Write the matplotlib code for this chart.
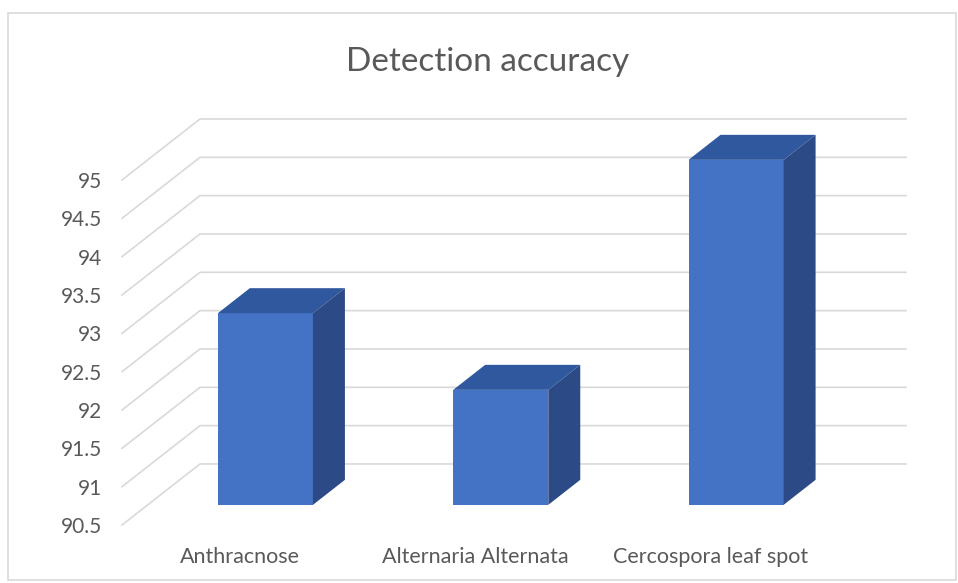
import matplotlib
matplotlib.use("Agg")
import matplotlib.pyplot as plt
from matplotlib.patches import Rectangle

# data
categories = ["Anthracnose", "Alternaria Alternata", "Cercospora leaf spot"]
accuracy = [93, 92, 95]
yticks = [90.5, 91, 91.5, 92, 92.5, 93, 93.5, 94, 94.5, 95]
ytick_labels = ["90.5", "91", "91.5", "92", "92.5", "93", "93.5", "94", "94.5", "95"]

# 3D look (oblique projection in data units)
DX = 0.3314   # full depth shift in x
DY = 0.796    # full depth shift in y
D0, D1 = 0.33, 0.74   # bar depth range
BAR_W = 0.404
Y0 = 90.5

FRONT = "#4472C4"
TOP = "#30589E"
SIDE = "#2C4B86"
GRID = "#D9D9D9"
TXT = "#595959"

plt.rcParams['font.family'] = ['Lato', 'DejaVu Sans']

W, H = 958, 583
fig = plt.figure(figsize=(W / 100, H / 100), dpi=100)
ax = fig.add_axes([122 / W, (H - 525) / H, (828 - 122) / W, (525 - 180) / H])
ax.set_xlim(-0.5, 2.5)
ax.set_ylim(Y0, 95)

# walls / gridlines
for v in yticks:
    ax.plot([-0.5, -0.5 + DX, 2.5 + DX], [v, v + DY, v + DY],
            color=GRID, lw=1.2, clip_on=False, zorder=1)

# bars
for i, val in enumerate(accuracy):
    x0 = i - BAR_W / 2
    x1 = i + BAR_W / 2
    fx0, fx1 = x0 + D0 * DX, x1 + D0 * DX
    fy0, fy1 = Y0 + D0 * DY, val + D0 * DY
    ddx, ddy = (D1 - D0) * DX, (D1 - D0) * DY
    # front
    ax.fill([fx0, fx1, fx1, fx0], [fy0, fy0, fy1, fy1], color=FRONT,
            lw=0, clip_on=False, zorder=3)
    # top
    ax.fill([fx0, fx1, fx1 + ddx, fx0 + ddx], [fy1, fy1, fy1 + ddy, fy1 + ddy],
            color=TOP, lw=0, clip_on=False, zorder=3)
    # side
    ax.fill([fx1, fx1 + ddx, fx1 + ddx, fx1], [fy0, fy0 + ddy, fy1 + ddy, fy1],
            color=SIDE, lw=0, clip_on=False, zorder=3)

ax.set_yticks(yticks)
ax.set_yticklabels(ytick_labels)
ax.set_xticks(range(len(categories)))
ax.set_xticklabels(categories)
ax.tick_params(axis='y', length=0, pad=14, labelsize=15, labelcolor=TXT)
ax.tick_params(axis='x', length=0, pad=16, labelsize=15.5, labelcolor=TXT)
for s in ax.spines.values():
    s.set_visible(False)
ax.patch.set_alpha(0)

fig.text(488 / W, 1 - 62 / H, "Detection accuracy", ha='center', va='center',
         fontsize=24, color=TXT)

# chart border
fig.patches.append(Rectangle((8 / W, (H - 580) / H), 948 / W, 567 / H,
                             transform=fig.transFigure, fill=False,
                             edgecolor=GRID, lw=1.2))

fig.savefig("out.png", dpi=100)
